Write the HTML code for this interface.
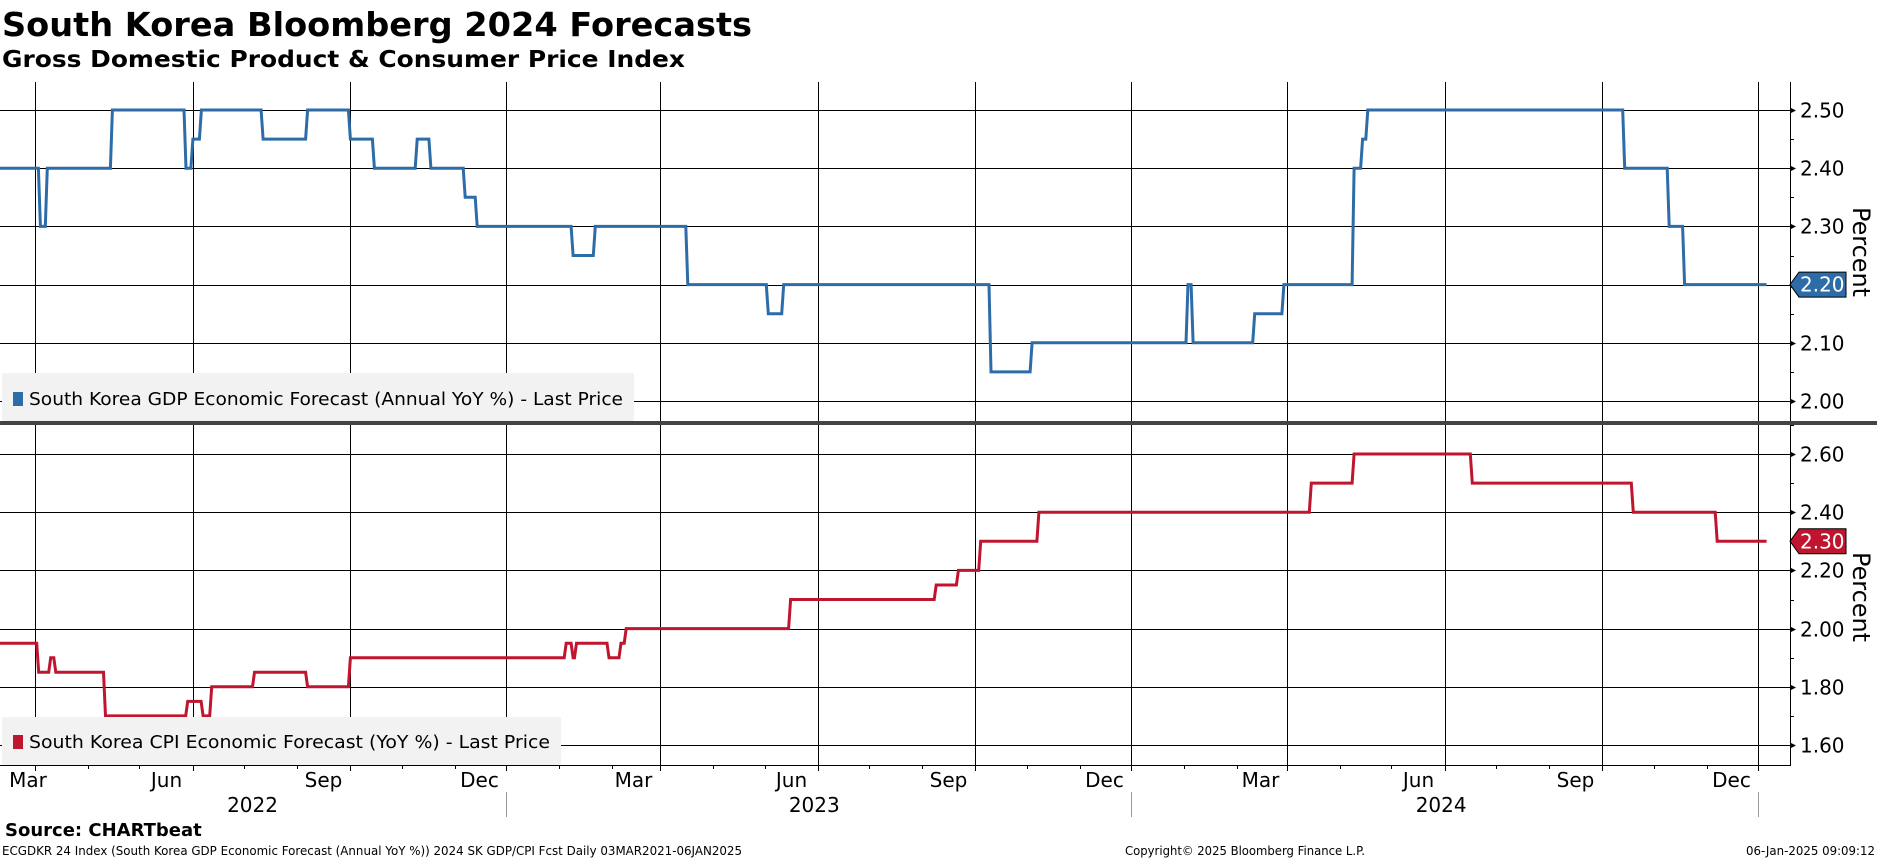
<!DOCTYPE html>
<html><head><meta charset="utf-8"><style>
html,body{margin:0;padding:0;background:#fff;}
svg{display:block;font-family:"DejaVu Sans","Liberation Sans",sans-serif;}
</style></head><body>
<svg id="chart" width="1877" height="859" viewBox="0 0 1877 859" xmlns="http://www.w3.org/2000/svg">
<text x="2" y="36" font-size="33" font-weight="bold" textLength="750" lengthAdjust="spacingAndGlyphs">South Korea Bloomberg 2024 Forecasts</text>
<text x="2" y="67" font-size="23" font-weight="bold" textLength="683" lengthAdjust="spacingAndGlyphs">Gross Domestic Product &amp; Consumer Price Index</text>
<g id="grid"></g>
<g id="series"></g>
<g id="axes"></g>
<rect x="0" y="421" width="1877" height="4" fill="#444"/>
<g>
<rect x="2" y="373" width="632" height="48" fill="#f2f2f2" rx="2"/>
<rect x="13" y="392" width="10" height="14" fill="#2e6ca8"/>
<text x="29" y="405" font-size="18" textLength="594" lengthAdjust="spacingAndGlyphs">South Korea GDP Economic Forecast (Annual YoY %) - Last Price</text>
</g>
<g>
<rect x="2" y="717" width="559" height="48" fill="#f2f2f2" rx="2"/>
<rect x="13" y="735" width="10" height="14" fill="#c0152f"/>
<text x="29" y="748" font-size="18" textLength="521" lengthAdjust="spacingAndGlyphs">South Korea CPI Economic Forecast (YoY %) - Last Price</text>
</g>
<text x="5" y="836" font-size="18" font-weight="bold">Source: CHARTbeat</text>
<text x="2" y="855" font-size="12" textLength="740" lengthAdjust="spacingAndGlyphs">ECGDKR 24 Index (South Korea GDP Economic Forecast (Annual YoY %)) 2024 SK GDP/CPI Fcst  Daily 03MAR2021-06JAN2025</text>
<text x="1125" y="855" font-size="12" textLength="240" lengthAdjust="spacingAndGlyphs">Copyright© 2025 Bloomberg Finance L.P.</text>
<text x="1746" y="855" font-size="12" textLength="129" lengthAdjust="spacingAndGlyphs">06-Jan-2025 09:09:12</text>
</svg>
<script>
const gdpDates=["2022-02-09","2022-03-03","2022-03-07","2022-04-14","2022-05-27","2022-05-31","2022-06-05","2022-07-11","2022-08-06","2022-08-31","2022-09-14","2022-10-09","2022-10-17","2022-11-06","2022-11-13","2023-01-08","2023-01-21","2023-03-16","2023-05-02","2023-05-11","2023-09-09","2023-10-03","2024-01-02","2024-01-05","2024-02-10","2024-02-27","2024-04-08","2024-04-13","2024-04-16","2024-09-13","2024-10-09","2024-10-18"];
const gdpValues=[2.40,2.30,2.40,2.50,2.40,2.45,2.50,2.45,2.50,2.45,2.40,2.45,2.40,2.35,2.30,2.25,2.30,2.20,2.15,2.20,2.05,2.10,2.20,2.10,2.15,2.20,2.40,2.45,2.50,2.40,2.30,2.20];
const cpiDates=["2022-02-09","2022-03-02","2022-03-09","2022-03-12","2022-04-10","2022-05-28","2022-06-06","2022-06-11","2022-07-06","2022-08-06","2022-08-31","2023-01-04","2023-01-08","2023-01-10","2023-01-29","2023-02-05","2023-02-08","2023-05-15","2023-08-08","2023-08-21","2023-09-03","2023-10-07","2024-03-14","2024-04-08","2024-06-16","2024-09-18","2024-11-06"];
const cpiValues=[1.95,1.85,1.90,1.85,1.70,1.75,1.70,1.80,1.85,1.80,1.90,1.95,1.90,1.95,1.90,1.95,2.00,2.10,2.15,2.20,2.30,2.40,2.50,2.60,2.50,2.40,2.30];
const endDate="2024-12-06";
const monthLabels=["Mar","Jun","Sep","Dec","Mar","Jun","Sep","Dec","Mar","Jun","Sep","Dec"];
const yearLabels=["2022","2023","2024"];
const yearCenters=["2022-07-06","2023-05-30","2024-05-30"];
const gdpTicks=[2.00,2.10,2.20,2.30,2.40,2.50];
const cpiTicks=[1.60,1.80,2.00,2.20,2.40,2.60];

const NS="http://www.w3.org/2000/svg";
const T0=Date.UTC(2022,2,1), PXDAY=(1758-35)/1006;
function dayOf(s){const p=s.split("-");return (Date.UTC(+p[0],+p[1]-1,+p[2])-T0)/86400000;}
function x(s){return 35+dayOf(s)*PXDAY;}
function yTop(v){return 401-(v-2.0)*582;}
function yBot(v){return 745-(v-1.6)*291;}
function mk(tag,attrs,parent){const e=document.createElementNS(NS,tag);for(const k in attrs)e.setAttribute(k,attrs[k]);document.getElementById(parent).appendChild(e);return e;}
const AX=1790;
for(let i=0;i<monthLabels.length;i++){
  const yr=2022+Math.floor(i/4);const mo=[3,6,9,12][i%4];
  const d=`${yr}-${String(mo).padStart(2,"0")}-01`;
  const gx=Math.round(x(d))+0.5;
  let l=mk("line",{x1:gx,x2:gx,y1:82,y2:421,stroke:"#000","stroke-width":1},"grid");
  
  
  l=mk("line",{x1:gx,x2:gx,y1:425,y2:771,stroke:"#000","stroke-width":1},"grid");
  
  
  const t=mk("text",{x:Math.max(gx-27,28),y:787,"font-size":20,"text-anchor":"middle"},"axes");
  t.textContent=monthLabels[i];
  
  
}
for(let m=-1;m<34;m++){
  const yr=2022+Math.floor((m+2)/12);const mo=((m+2)%12+12)%12+1;
  const d=`${yr}-${String(mo).padStart(2,"0")}-01`;
  const gx=Math.round(x(d))+0.5;
  if(gx<0||gx>AX)continue;
  const l=mk("line",{x1:gx,x2:gx,y1:765,y2:769,stroke:"#000"},"axes");
  
  
}
for(let i=0;i<yearLabels.length;i++){
  const t=mk("text",{x:x(yearCenters[i]),y:812,"font-size":20,"text-anchor":"middle"},"axes");
  t.textContent=yearLabels[i];
  
  
}
["2022-12-01","2023-12-01","2024-12-01"].forEach(d=>{const gx=Math.round(x(d))+0.5;
  const l=mk("line",{x1:gx,x2:gx,y1:792,y2:817,stroke:"#999"},"axes");
  
  });
let bl=mk("line",{x1:0,x2:AX,y1:765.5,y2:765.5,stroke:"#000"},"axes");


function yAxis(ticks,yf,minorStep,top,bot,name){
  let a=mk("line",{x1:AX+0.5,x2:AX+0.5,y1:top,y2:bot,stroke:"#000"},"axes");
  
  
  ticks.forEach(v=>{const yy=Math.round(yf(v))+0.5;
    const g=mk("line",{x1:0,x2:AX,y1:yy,y2:yy,stroke:"#000"},"grid");
    
    
    const p=mk("path",{d:`M${AX},${yy-3}L${AX+6},${yy}L${AX},${yy+3}Z`,fill:"#000"},"axes");
    
    
    const t=mk("text",{x:1800,y:yy+7,"font-size":20},"axes");
    t.textContent=v.toFixed(2);
    
    
    const mv=v+minorStep;const my=Math.round(yf(mv))+0.5;
    if(my>top){const m=mk("line",{x1:AX,x2:AX+4,y1:my,y2:my,stroke:"#000"},"axes");
      
      }
  });
}
yAxis(gdpTicks,yTop,0.05,82,421,"gdp");
yAxis(cpiTicks,yBot,0.1,425,766,"cpi");
[["Percent",252,"gdp-y-axis-title"],["Percent",597,"cpi-y-axis-title"]].forEach(a=>{
  const t=mk("text",{x:0,y:0,"font-size":24,"text-anchor":"middle",textLength:90,lengthAdjust:"spacingAndGlyphs",transform:`translate(1853,${a[1]}) rotate(90)`},"axes");
  t.textContent=a[0];
  
  
});
function stepPath(dates,vals,yf){let d="";for(let i=0;i<dates.length;i++){const xx=x(dates[i]).toFixed(1),yy=yf(vals[i]).toFixed(1);
  if(i===0)d+=`M0,${yy}`;else d+=`L${xx},${yf(vals[i-1]).toFixed(1)}L${(+xx+2).toFixed(1)},${yy}`;}
  d+=`L${x(endDate).toFixed(1)},${yf(vals[vals.length-1]).toFixed(1)}`;return d;}
let s=mk("path",{d:stepPath(gdpDates,gdpValues,yTop),fill:"none",stroke:"#2e6ca8","stroke-width":3},"series");


s=mk("path",{d:stepPath(cpiDates,cpiValues,yBot),fill:"none",stroke:"#c0152f","stroke-width":3},"series");


function tag(v,yf,color,name){const yy=yf(v);
  const p=mk("path",{d:`M${AX},${yy}L${AX+9},${yy-12.5}L1846,${yy-12.5}L1846,${yy+12.5}L${AX+9},${yy+12.5}Z`,fill:color,stroke:"#000","stroke-width":1},"axes");
  
  
  const t=mk("text",{x:1800,y:yy+7,"font-size":20,fill:"#fff"},"axes");
  t.textContent=v.toFixed(2);
  
  }
tag(gdpValues[gdpValues.length-1],yTop,"#2e6ca8","gdp");
tag(cpiValues[cpiValues.length-1],yBot,"#c0152f","cpi");
</script>
</body></html>
